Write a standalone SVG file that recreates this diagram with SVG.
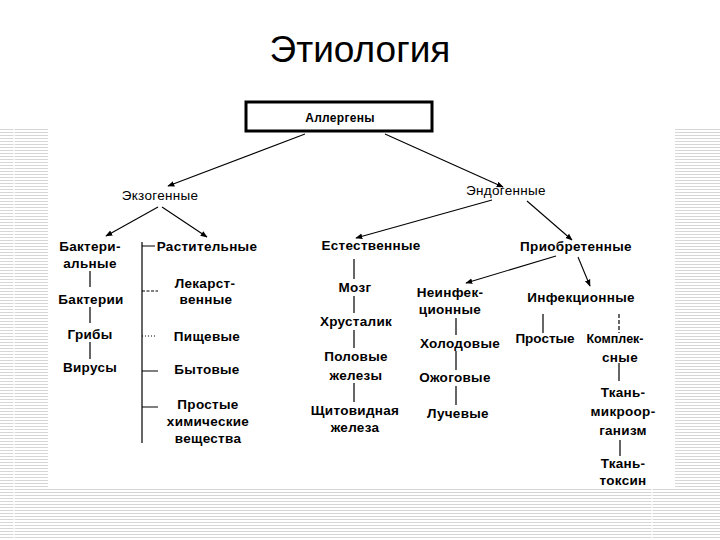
<svg xmlns="http://www.w3.org/2000/svg" width="720" height="540" viewBox="0 0 720 540">
<defs>
<pattern id="stripes" patternUnits="userSpaceOnUse" width="6" height="3">
<rect x="0" y="0" width="6" height="1" fill="#d6d6d6"/>
</pattern>
<marker id="arr" viewBox="0 0 10 10" refX="9" refY="5" markerWidth="7" markerHeight="7" orient="auto" markerUnits="userSpaceOnUse">
<path d="M0,1 L10,5 L0,9 Z" fill="#000"/>
</marker>
</defs>
<style>
.t{font-family:"Liberation Sans",Arial,sans-serif;font-size:13.5px;font-weight:bold;text-anchor:middle;fill:#000;letter-spacing:0.3px}
.n{font-weight:normal}
.ln{stroke:#000;stroke-width:1.2;fill:none}
.a{stroke:#000;stroke-width:1.1;fill:none;marker-end:url(#arr)}
</style>
<rect width="720" height="540" fill="#fff"/>
<g id="background">
<rect x="0" y="128" width="48" height="412" fill="url(#stripes)"/>
<rect x="675" y="128" width="45" height="412" fill="url(#stripes)"/>
<rect x="0" y="488" width="720" height="52" fill="url(#stripes)"/>
<rect x="13" y="128" width="2" height="412" fill="#fff" opacity="0.6"/>
<rect x="651" y="488" width="2" height="52" fill="#fff" opacity="0.6"/>
</g>
<text x="360" y="62" style="font-family:'Liberation Sans',Arial,sans-serif;font-size:37px;text-anchor:middle;fill:#000">Этиология</text>
<g id="connectors">
<line class="a" x1="305" y1="134" x2="168" y2="186"/>
<line class="a" x1="385" y1="134" x2="503" y2="187"/>
<line class="a" x1="158" y1="207" x2="106" y2="236"/>
<line class="a" x1="162" y1="207" x2="207" y2="237"/>
<line class="a" x1="492" y1="200" x2="356" y2="238"/>
<line class="a" x1="527" y1="201" x2="572" y2="240"/>
<line class="a" x1="556" y1="256" x2="466" y2="283"/>
<line class="a" x1="578" y1="257" x2="590" y2="286"/>
<path class="ln" d="M90,271V287 M90,307V323 M90,342V359"/>
<path class="ln" d="M142,242V443 M142,246H155 M142,371H158 M142,407H158"/>
<path class="ln" d="M142,291H158" stroke-dasharray="3,1.5"/>
<path class="ln" d="M142,336H155" stroke-dasharray="1,2"/>
<path class="ln" d="M354,259V279 M354,296V313 M354,330V348 M354,383V402"/>
<path class="ln" d="M456,318V335 M456,351V370 M456,386V405"/>
<path class="ln" d="M543,314V333"/>
<path class="ln" d="M619,314V333" stroke-dasharray="4,2"/>
<path class="ln" d="M619,363V381 M620,440V456"/>
</g>
<g id="allergeny">
<rect x="246" y="102" width="186" height="29" fill="#fff" stroke="#000" stroke-width="3"/>
<text class="t" x="340" y="122" style="font-size:12px">Аллергены</text>
</g>
<g id="exo"><text class="t n" x="160" y="200">Экзогенные</text></g>
<g id="endo"><text class="t n" x="506" y="195">Эндогенные</text></g>
<g id="bakterialnye"><text class="t" x="90" y="251">Бактери-</text><text class="t" x="90" y="268">альные</text></g>
<g id="bakterii"><text class="t" x="91" y="304">Бактерии</text></g>
<g id="griby"><text class="t" x="90" y="339">Грибы</text></g>
<g id="virusy"><text class="t" x="90" y="372">Вирусы</text></g>
<g id="rastitelnye"><text class="t" x="207" y="251">Растительные</text></g>
<g id="lekarstvennye"><text class="t" x="205" y="288">Лекарст-</text><text class="t" x="206" y="304">венные</text></g>
<g id="pishchevye"><text class="t" x="207" y="341">Пищевые</text></g>
<g id="bytovye"><text class="t" x="207" y="374">Бытовые</text></g>
<g id="khim"><text class="t" x="208" y="409">Простые</text><text class="t" x="208" y="426">химические</text><text class="t" x="208" y="443">вещества</text></g>
<g id="estestvennye"><text class="t" x="371" y="250">Естественные</text></g>
<g id="mozg"><text class="t" x="355" y="292">Мозг</text></g>
<g id="khrustalik"><text class="t" x="356" y="326">Хрусталик</text></g>
<g id="polovye"><text class="t" x="356" y="361">Половые</text><text class="t" x="356" y="380">железы</text></g>
<g id="shchitovidnaya"><text class="t" x="355" y="415">Щитовидная</text><text class="t" x="355" y="432">железа</text></g>
<g id="priobretennye"><text class="t" x="576" y="251">Приобретенные</text></g>
<g id="neinfekc"><text class="t" x="450" y="297">Неинфек-</text><text class="t" x="450" y="314">ционные</text></g>
<g id="kholodovye"><text class="t" x="460" y="348">Холодовые</text></g>
<g id="ozhogovye"><text class="t" x="455" y="382">Ожоговые</text></g>
<g id="luchevye"><text class="t" x="458" y="418">Лучевые</text></g>
<g id="infekc"><text class="t" x="581" y="302">Инфекционные</text></g>
<g id="prostye"><text class="t" x="545" y="343" style="letter-spacing:0">Простые</text></g>
<g id="kompleksnye"><text class="t" x="615" y="343" style="font-size:12.5px;letter-spacing:0">Комплек-</text><text class="t" x="620" y="362">сные</text></g>
<g id="tkan-mikro"><text class="t" x="623" y="397">Ткань-</text><text class="t" x="623" y="416">микроор-</text><text class="t" x="623" y="435">ганизм</text></g>
<g id="tkan-toksin"><text class="t" x="623" y="468">Ткань-</text><text class="t" x="623" y="485">токсин</text></g>
</svg>
